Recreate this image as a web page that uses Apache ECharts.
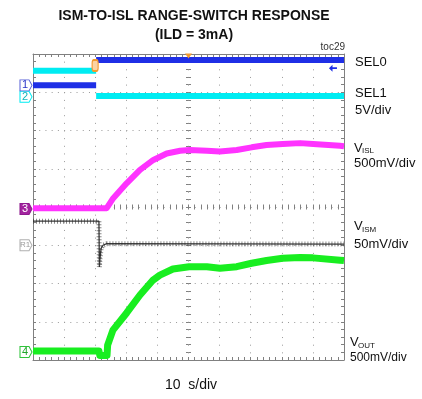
<!DOCTYPE html>
<html>
<head>
<meta charset="utf-8">
<script src="https://cdn.jsdelivr.net/npm/echarts@6/dist/echarts.min.js"></script>
<style>
  html, body { margin: 0; padding: 0; background: #fff; }
  #chart { width: 422px; height: 399px; }
</style>
</head>
<body>
<div id="chart"></div>
<script>
// Horizontal: time in µs (10 µs/div, 10 div). Vertical: screen divisions (0..8).
// null marks a break in a trace.
const sel0Time = [0, 20.3, 20.3, 20.3, 100];
const sel0Div  = [7.18, 7.18, null, 7.84, 7.84];

const sel1Time = [0, 20.3, 20.3, 20.3, 100];
const sel1Div  = [7.56, 7.56, null, 6.90, 6.90];

const vislTime = [0, 23.7, 25.8, 30.1, 34.4, 38.7, 43.0, 47.3, 50.3, 55.9, 60.1, 65.5, 70.3, 75.1, 80.3, 85.9, 90.1, 98.7, 100];
const vislDiv  = [3.97, 3.97, 4.23, 4.62, 4.97, 5.23, 5.40, 5.47, 5.49, 5.47, 5.45, 5.49, 5.56, 5.62, 5.65, 5.67, 5.65, 5.60, 5.59];

const vismTime = [0, 21.2, 21.35, 21.5, 21.9, 22.5, 23.7, 100];
const vismDiv  = [3.63, 3.63, 2.43, 2.62, 2.92, 3.00, 3.04, 3.03];

const voutTime = [0, 21.2, 21.5, 23.8, 24.0, 25.7, 30.1, 34.4, 38.6, 40.8, 45.0, 50.2, 55.9, 60.1, 65.5, 70.3, 75.1, 80.3, 85.9, 90.0, 98.7, 100];
const voutDiv  = [0.235, 0.235, 0.12, 0.12, 0.39, 0.78, 1.23, 1.70, 2.09, 2.22, 2.38, 2.44, 2.44, 2.40, 2.44, 2.53, 2.60, 2.66, 2.68, 2.67, 2.61, 2.60];

// Channel reference tags on the left edge: label and level (div)
const tagLabels = ['1', '2', '3', 'R1', '4'];
const tagLevels = [7.18, 6.88, 3.95, 3.00, 0.21];

// Trigger position (µs) / level, and the horizontal-position marker
const trigTime = 20.3, trigLevel = 7.70;
const centerTime = 50;

const COL = {
  sel0: '#1f2fe6',
  sel1: '#00ecf2',
  visl: '#ff33ff',
  vism: '#3a3a3a',
  vout: '#18ee20',
  grid: '#9a9a9a',
  frame: '#808080',
  trig: '#f39a2e'
};

function zip(t, v) {
  return t.map((x, i) => [x, v[i] === null ? '-' : v[i]]);
}

const tagPath = 'path://M0,0 L9,0 L12,5.5 L9,11 L0,11 Z';
function tag(i, border, fill, textColor, fs) {
  return {
    symbol: tagPath,
    symbolSize: [12, 11],
    symbolOffset: [-7, 0],
    silent: true,
    animation: false,
    data: [{ coord: [0, tagLevels[i]] }],
    itemStyle: { color: fill, borderColor: border, borderWidth: 1 },
    label: { show: true, position: 'inside', offset: [-1, 0], formatter: tagLabels[i],
             color: textColor, fontSize: fs, fontFamily: 'Liberation Sans, Arial, sans-serif' }
  };
}

const chart = echarts.init(document.getElementById('chart'), null, { renderer: 'canvas' });

const FONT = '"Liberation Sans", Arial, sans-serif';
const hidden = { show: false };

function xAx(extra) {
  return Object.assign({ type: 'value', min: 0, max: 100, axisLabel: hidden, splitLine: hidden,
    axisLine: hidden, axisTick: hidden }, extra);
}
function yAx(extra) {
  return Object.assign({ type: 'value', min: 0, max: 8, axisLabel: hidden, splitLine: hidden,
    axisLine: hidden, axisTick: hidden }, extra);
}
const frameLine = { show: true, onZero: false, lineStyle: { color: COL.frame, width: 1 } };

const option = {
  animation: false,
  backgroundColor: '#fff',
  grid: { left: 33, top: 54, width: 311, height: 306 },
  xAxis: [
    xAx({ interval: 10, position: 'bottom',
      splitLine: { show: true, lineStyle: { color: COL.grid, width: 1, type: [1, 6.65] } } }),
    xAx({ interval: 2, position: 'bottom', axisLine: frameLine,
      axisTick: { show: true, inside: true, length: 3, lineStyle: { color: COL.frame } } }),
    xAx({ interval: 2, position: 'top', axisLine: frameLine,
      axisTick: { show: true, inside: true, length: 3, lineStyle: { color: COL.frame } } }),
    xAx({ interval: 2, position: 'bottom', offset: -153,
      axisTick: { show: true, inside: true, length: 2.5, lineStyle: { color: COL.frame } } }),
    xAx({ interval: 2, position: 'bottom', offset: -153,
      axisTick: { show: true, inside: false, length: 2.5, lineStyle: { color: COL.frame } } })
  ],
  yAxis: [
    yAx({ interval: 1, position: 'left',
      splitLine: { show: true, lineStyle: { color: COL.grid, width: 1, type: [1, 5.22] } } }),
    yAx({ interval: 0.2, position: 'left', axisLine: frameLine,
      axisTick: { show: true, inside: true, length: 3, lineStyle: { color: COL.frame } } }),
    yAx({ interval: 0.2, position: 'right', axisLine: frameLine,
      axisTick: { show: true, inside: true, length: 3, lineStyle: { color: COL.frame } } }),
    yAx({ interval: 0.2, position: 'left', offset: -155.5,
      axisTick: { show: true, inside: true, length: 2.5, lineStyle: { color: COL.frame } } }),
    yAx({ interval: 0.2, position: 'left', offset: -155.5,
      axisTick: { show: true, inside: false, length: 2.5, lineStyle: { color: COL.frame } } })
  ],
  series: [
    {
      name: 'SEL1', type: 'line', data: zip(sel1Time, sel1Div), showSymbol: false, silent: true,
      connectNulls: false, z: 3,
      lineStyle: { color: COL.sel1, width: 6, cap: 'butt' },
      markPoint: tag(1, COL.sel1, '#fff', '#11b5bd', 11)
    },
    {
      name: 'SEL0', type: 'line', data: zip(sel0Time, sel0Div), showSymbol: false, silent: true,
      connectNulls: false, z: 4,
      lineStyle: { color: COL.sel0, width: 6, cap: 'butt' },
      markPoint: Object.assign(tag(0, '#5a63d8', '#fff', '#2a35c8', 11), {
        data: [
          { coord: [0, tagLevels[0]] },
          { coord: [trigTime, trigLevel], symbol: 'roundRect', symbolSize: [6, 11], symbolOffset: [-1, 0],
            itemStyle: { color: '#fbd3a3', borderColor: COL.trig, borderWidth: 1.5 }, label: { show: false } },
          { coord: [centerTime, 8], symbol: 'triangle', symbolRotate: 180, symbolSize: [7, 5], symbolOffset: [0, 2],
            itemStyle: { color: COL.trig, borderWidth: 0 }, label: { show: false } },
          { coord: [98.7, 7.63], symbol: 'path://M0,3 L4,0 L4,2.3 L9,2.3 L9,3.7 L4,3.7 L4,6 Z', symbolSize: [8, 7],
            itemStyle: { color: COL.sel0, borderWidth: 0 }, label: { show: false } }
        ]
      })
    },
    {
      name: 'VISM', type: 'line', data: zip(vismTime, vismDiv), showSymbol: false, silent: true, z: 5,
      lineStyle: { color: COL.vism, width: 1.3 },
      markPoint: tag(3, '#b0b0b0', '#fff', '#9a9a9a', 8)
    },
    {
      name: 'VISM band', type: 'line', data: zip(vismTime, vismDiv), showSymbol: false, silent: true, z: 5,
      lineStyle: { color: 'rgba(40,40,40,0.55)', width: 5, type: [1, 2] }
    },
    {
      name: 'VISL', type: 'line', data: zip(vislTime, vislDiv), showSymbol: false, silent: true, z: 6,
      lineStyle: { color: COL.visl, width: 6, join: 'round' },
      markPoint: tag(2, '#8e1a8e', '#a3249f', '#fff', 11)
    },
    {
      name: 'VOUT', type: 'line', data: zip(voutTime, voutDiv), showSymbol: false, silent: true, z: 7,
      lineStyle: { color: COL.vout, width: 7, join: 'round' },
      markPoint: tag(4, '#2fc43a', '#fff', '#22a52c', 11)
    }
  ],
  graphic: [
    { type: 'text', x: 194, y: 16, style: { text: 'ISM-TO-ISL RANGE-SWITCH RESPONSE', font: 'bold 14px ' + FONT,
      fill: '#111', align: 'center', verticalAlign: 'middle' } },
    { type: 'text', x: 194, y: 35, style: { text: '(ILD = 3mA)', font: 'bold 14px ' + FONT,
      fill: '#111', align: 'center', verticalAlign: 'middle' } },
    { type: 'text', x: 345, y: 47, style: { text: 'toc29', font: '10px ' + FONT,
      fill: '#333', align: 'right', verticalAlign: 'middle' } },
    { type: 'text', x: 191, y: 385, style: { text: '10  s/div', font: '14px ' + FONT,
      fill: '#111', align: 'center', verticalAlign: 'middle' } },

    { type: 'text', x: 355, y: 62, style: { text: 'SEL0', font: '13px ' + FONT, fill: '#111', verticalAlign: 'middle' } },
    { type: 'text', x: 355, y: 93, style: { text: 'SEL1', font: '13px ' + FONT, fill: '#111', verticalAlign: 'middle' } },
    { type: 'text', x: 355, y: 110, style: { text: '5V/div', font: '13px ' + FONT, fill: '#111', verticalAlign: 'middle' } },

    { type: 'text', x: 354, y: 148, style: { text: 'V', font: '13px ' + FONT, fill: '#111', verticalAlign: 'middle' } },
    { type: 'text', x: 362, y: 151, style: { text: 'ISL', font: '8px ' + FONT, fill: '#111', verticalAlign: 'middle' } },
    { type: 'text', x: 354, y: 163, style: { text: '500mV/div', font: '13px ' + FONT, fill: '#111', verticalAlign: 'middle' } },

    { type: 'text', x: 354, y: 226, style: { text: 'V', font: '13px ' + FONT, fill: '#111', verticalAlign: 'middle' } },
    { type: 'text', x: 362, y: 230, style: { text: 'ISM', font: '8px ' + FONT, fill: '#111', verticalAlign: 'middle' } },
    { type: 'text', x: 354, y: 244, style: { text: '50mV/div', font: '13px ' + FONT, fill: '#111', verticalAlign: 'middle' } },

    { type: 'text', x: 350, y: 342, style: { text: 'V', font: '13px ' + FONT, fill: '#111', verticalAlign: 'middle' } },
    { type: 'text', x: 358, y: 346, style: { text: 'OUT', font: '8px ' + FONT, fill: '#111', verticalAlign: 'middle' } },
    { type: 'text', x: 350, y: 358, style: { text: '500mV/div', font: '12px ' + FONT, fill: '#111', verticalAlign: 'middle' } }
  ]
};

chart.setOption(option);
</script>
</body>
</html>
